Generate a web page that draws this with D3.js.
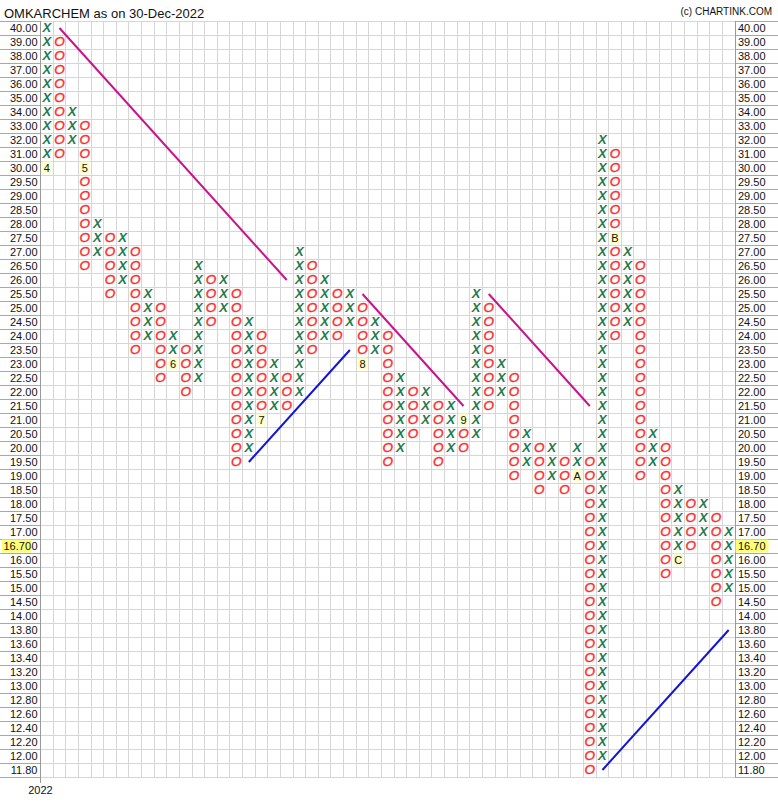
<!DOCTYPE html>
<html>
<head>
<meta charset="utf-8">
<script src="https://cdn.jsdelivr.net/npm/d3@7"></script>
<style>
  html, body { margin: 0; padding: 0; background: #fff; }
  svg { display: block; }
</style>
</head>
<body>
<div id="chart"></div>
<script>
// ---------------- data ----------------
const title = "OMKARCHEM as on 30-Dec-2022";
const credit = "(c) CHARTINK.COM";
const yearLabel = "2022";
const lastPrice = "16.70";
const lastPriceRow = "16.50";

const priceLabels = [
  "40.00","39.00","38.00","37.00","36.00","35.00","34.00","33.00","32.00","31.00","30.00",
  "29.50","29.00","28.50","28.00","27.50","27.00","26.50","26.00","25.50","25.00","24.50",
  "24.00","23.50","23.00","22.50","22.00","21.50","21.00","20.50","20.00","19.50","19.00",
  "18.50","18.00","17.50","17.00","16.50","16.00","15.50","15.00","14.50","14.00",
  "13.80","13.60","13.40","13.20","13.00","12.80","12.60","12.40","12.20","12.00","11.80"
];

// one entry per column: type, high box, low box
const colTypes = ["X","O","X","O","X","O","X","O","X","O","X","O","X","O","X","O","X","O","X","O",
                  "X","O","X","O","X","O","X","O","X","O","X","O","X","O","X","O","X","O","X","O",
                  "X","O","X","O","X","O","X","O","X","O","X","O","X","O","X"];
const colHigh = ["40.00","39.00","34.00","33.00","28.00","27.50","27.50","27.00","25.50","25.00",
                 "24.00","23.50","26.50","26.00","26.00","25.50","24.50","24.00","23.00","22.50",
                 "27.00","26.50","26.00","25.50","25.50","25.00","24.50","24.00","22.50","22.00",
                 "22.00","21.50","21.50","21.00","25.50","25.00","23.00","22.50","20.50","20.00",
                 "20.00","19.50","20.00","19.50","32.00","31.00","27.00","26.50","20.50","20.00",
                 "18.50","18.00","18.00","17.50","17.00"];
const colLow  = ["30.00","31.00","32.00","26.50","27.00","25.50","26.00","23.50","24.00","22.50",
                 "23.00","22.00","22.50","24.50","25.00","19.50","20.00","21.00","21.50","21.50",
                 "22.00","23.50","24.00","24.00","24.50","23.00","23.50","19.50","20.00","20.50",
                 "21.00","19.50","20.00","20.00","20.50","21.50","22.00","19.00","19.50","18.50",
                 "19.00","18.50","19.00","11.80","12.00","24.00","24.50","19.00","19.50","15.50",
                 "16.00","16.50","17.00","14.50","15.00"];

// month markers (replace a box)
const markerCols   = [0, 3, 10, 17, 25, 33, 42, 45, 50];
const markerPrices = ["30.00","30.00","23.00","21.00","23.00","21.00","19.00","27.50","16.00"];
const markerTexts  = ["4","5","6","7","8","9","A","B","C"];

// trend lines
const lineFromCol   = [1, 16, 25, 35, 44];
const lineFromPrice = ["40.00","19.50","25.50","25.50","11.80"];
const lineToCol     = [19, 24, 33, 43, 54];
const lineToPrice   = ["26.00","23.50","21.50","21.50","13.80"];
const lineKinds     = ["resistance","support","resistance","resistance","support"];

// ---------------- layout ----------------
const W = 778, H = 806;
const plotL = 40.5, plotR = 735, plotT = 21, plotB = 777;
const nCols = colTypes.length;

const svg = d3.select("#chart").append("svg")
  .attr("width", W).attr("height", H)
  .style("font-family", "'Liberation Sans', Arial, sans-serif");

const x = d3.scaleBand().domain(d3.range(nCols)).range([plotL, plotR]).paddingInner(0).paddingOuter(0);
const y = d3.scaleBand().domain(priceLabels).range([plotT, plotB]);
const cx = i => x(i) + x.bandwidth() / 2;
const cy = p => y(p) + y.bandwidth() / 2;

// grid - vertical
svg.append("g").selectAll("line").data(d3.range(nCols + 1)).join("line")
  .attr("x1", i => i < nCols ? x(i) : plotR).attr("x2", i => i < nCols ? x(i) : plotR)
  .attr("y1", plotT).attr("y2", plotB)
  .attr("stroke", "#d6d6d6").attr("stroke-width", 1)
  .attr("shape-rendering", "crispEdges");

// grid - horizontal (plot)
const rowEdges = priceLabels.map(p => y(p)).concat([plotB]);
svg.append("g").selectAll("line").data(rowEdges).join("line")
  .attr("x1", plotL).attr("x2", plotR)
  .attr("y1", d => d).attr("y2", d => d)
  .attr("stroke", "#d6d6d6").attr("stroke-width", 1)
  .attr("shape-rendering", "crispEdges");

// label area lines
svg.append("g").selectAll("line").data(rowEdges).join("line")
  .attr("x1", 0).attr("x2", plotL)
  .attr("y1", d => d).attr("y2", d => d)
  .attr("stroke", "#a8a8a8").attr("shape-rendering", "crispEdges");
svg.append("g").selectAll("line").data(rowEdges).join("line")
  .attr("x1", plotR).attr("x2", W)
  .attr("y1", d => d).attr("y2", d => d)
  .attr("stroke", "#a8a8a8").attr("shape-rendering", "crispEdges");

// axis borders
svg.append("line").attr("x1", plotL).attr("x2", plotL).attr("y1", plotT).attr("y2", plotB + 6)
  .attr("stroke", "#9a9a9a").attr("shape-rendering", "crispEdges");
svg.append("line").attr("x1", plotR).attr("x2", plotR).attr("y1", plotT).attr("y2", plotB)
  .attr("stroke", "#9a9a9a").attr("shape-rendering", "crispEdges");

// tick labels left
svg.append("g").selectAll("text").data(priceLabels).join("text")
  .attr("x", plotL - 3).attr("y", p => cy(p))
  .attr("text-anchor", "end").attr("dominant-baseline", "central")
  .attr("font-size", 11).attr("fill", "#111")
  .text(p => p);

// tick labels right
svg.append("g").selectAll("text").data(priceLabels.filter(p => p !== lastPriceRow)).join("text")
  .attr("x", plotR + 3).attr("y", p => cy(p))
  .attr("text-anchor", "start").attr("dominant-baseline", "central")
  .attr("font-size", 11).attr("fill", "#111")
  .text(p => p);

// last price highlights
const lpY = cy(lastPriceRow);
svg.append("rect").attr("x", 2).attr("y", lpY - 6.5).attr("width", 29).attr("height", 13).attr("fill", "#ffff77");
svg.append("text").attr("x", 3.5).attr("y", lpY).attr("dominant-baseline", "central")
  .attr("font-size", 11).attr("fill", "#111").text(lastPrice);
svg.append("rect").attr("x", plotR + 0.5).attr("y", lpY - 6.5).attr("width", 33).attr("height", 13).attr("fill", "#ffff77");
svg.append("text").attr("x", plotR + 3).attr("y", lpY).attr("dominant-baseline", "central")
  .attr("font-size", 11).attr("fill", "#111").text(lastPrice);

// boxes
const markerKey = new Map(markerCols.map((c, i) => [c + "|" + markerPrices[i], markerTexts[i]]));
const boxes = [];
colTypes.forEach((t, i) => {
  const hi = priceLabels.indexOf(colHigh[i]);
  const lo = priceLabels.indexOf(colLow[i]);
  for (let k = hi; k <= lo; k++) {
    const p = priceLabels[k];
    if (markerKey.has(i + "|" + p)) continue;
    boxes.push({ col: i, price: p, type: t });
  }
});

svg.append("g").selectAll("text").data(boxes).join("text")
  .attr("x", d => cx(d.col)).attr("y", d => cy(d.price) - 0.5)
  .attr("text-anchor", "middle").attr("dominant-baseline", "central")
  .attr("font-size", d => d.type === "X" ? 13 : 13.5)
  .attr("font-style", "italic")
  .attr("font-weight", d => d.type === "X" ? "bold" : "normal")
  .attr("stroke", d => d.type === "X" ? "none" : "#ff2b2b")
  .attr("stroke-width", 0.4)
  .attr("fill", d => d.type === "X" ? "#1f7a4d" : "#ff2b2b")
  .text(d => d.type);

// month markers
const mk = svg.append("g").selectAll("g").data(markerTexts.map((t, i) => ({ t, col: markerCols[i], price: markerPrices[i] }))).join("g");
mk.append("rect")
  .attr("x", d => cx(d.col) - 4.5).attr("y", d => cy(d.price) - 6.5)
  .attr("width", 9).attr("height", 12).attr("fill", "#ffffc4");
mk.append("text")
  .attr("x", d => cx(d.col)).attr("y", d => cy(d.price) - 0.5)
  .attr("text-anchor", "middle").attr("dominant-baseline", "central")
  .attr("font-size", 11).attr("fill", "#111")
  .text(d => d.t);

// trend lines
svg.append("g").selectAll("line").data(lineKinds.map((k, i) => i)).join("line")
  .attr("x1", i => cx(lineFromCol[i])).attr("y1", i => cy(lineFromPrice[i]))
  .attr("x2", i => cx(lineToCol[i])).attr("y2", i => cy(lineToPrice[i]))
  .attr("stroke", i => lineKinds[i] === "resistance" ? "#c8148c" : "#1414d2")
  .attr("stroke-width", 2);

// titles
svg.append("text").attr("x", 4).attr("y", 13).attr("dominant-baseline", "central")
  .attr("font-size", 13).attr("fill", "#111").text(title);
svg.append("text").attr("x", 772).attr("y", 11).attr("text-anchor", "end").attr("dominant-baseline", "central")
  .attr("font-size", 10).attr("fill", "#111").text(credit);

// year label
svg.append("text").attr("x", plotL).attr("y", 790).attr("text-anchor", "middle").attr("dominant-baseline", "central")
  .attr("font-size", 11).attr("fill", "#111").text(yearLabel);
</script>
</body>
</html>
